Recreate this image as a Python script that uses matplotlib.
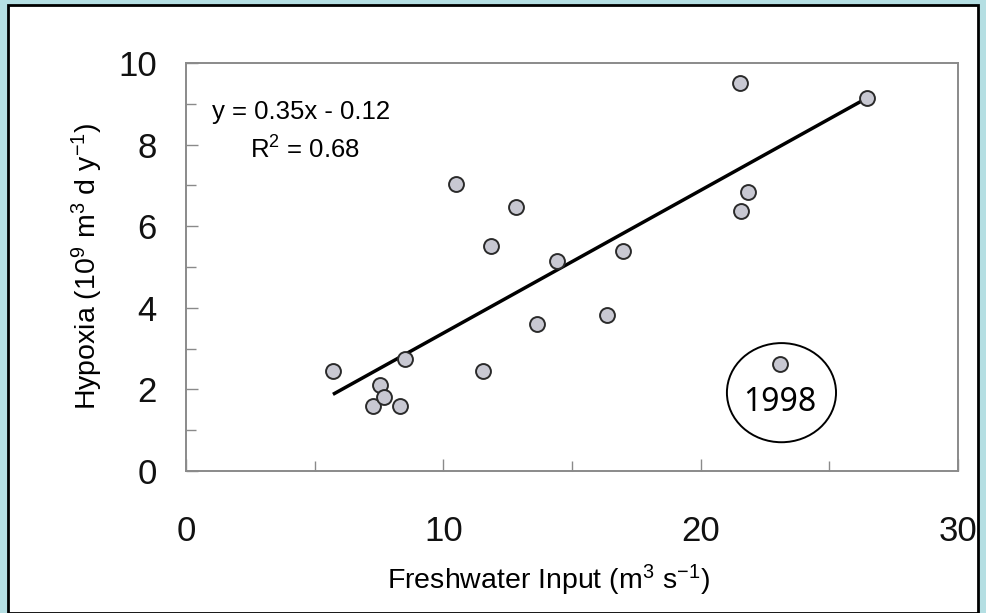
import matplotlib
matplotlib.use("Agg")
import matplotlib.pyplot as plt
from matplotlib.patches import Rectangle, Ellipse
from matplotlib.ticker import MultipleLocator
import numpy as np

# freshwater input (m3 s-1) and hypoxia (10^9 m3 d y-1)
freshwater = [5.71, 7.27, 7.54, 7.70, 8.32, 8.51, 10.49, 11.54, 11.85, 12.83,
              13.64, 14.42, 16.36, 16.98, 21.53, 21.57, 21.84, 23.09, 26.47]
hypoxia = [2.45, 1.59, 2.11, 1.81, 1.59, 2.75, 7.03, 2.45, 5.51, 6.47,
           3.60, 5.15, 3.82, 5.39, 9.51, 6.37, 6.84, 2.62, 9.14]

slope = 0.35
intercept = -0.12
r_squared = 0.68

outlier_year = "1998"
outlier_xy = (23.14, 1.92)

plt.rcParams['font.family'] = ['Liberation Sans', 'DejaVu Sans']
plt.rcParams['mathtext.default'] = 'regular'

W, H = 986, 613
fig = plt.figure(figsize=(W / 100, H / 100), dpi=100)
fig.patch.set_facecolor('#b5dfe3')

# white panel with black border
fig.patches.append(Rectangle((8 / W, 0), (978 - 8) / W, 1 - 5 / H,
                             transform=fig.transFigure, facecolor='white',
                             edgecolor='black', linewidth=2, zorder=-5))

ax = fig.add_axes([186 / W, 1 - 471 / H, (958 - 186) / W, (471 - 63) / H])
ax.set_zorder(2)
ax.set_xlim(0, 30)
ax.set_ylim(0, 10)

for s in ax.spines.values():
    s.set_color('#8a8a8a')
    s.set_linewidth(1.4)

ax.xaxis.set_major_locator(MultipleLocator(10))
ax.xaxis.set_minor_locator(MultipleLocator(5))
ax.yaxis.set_major_locator(MultipleLocator(2))
ax.yaxis.set_minor_locator(MultipleLocator(1))
ax.tick_params(axis='both', which='both', direction='in', colors='#8a8a8a',
               width=1.0, labelcolor='#111111', labelsize=25)
ax.tick_params(axis='both', which='major', length=8.5)
ax.tick_params(axis='both', which='minor', length=7)
ax.tick_params(axis='x', which='major', pad=32)
ax.tick_params(axis='y', which='major', pad=21)

# regression line over the data range
xs = np.array([min(freshwater), max(freshwater)])
ax.plot(xs, slope * xs + intercept, color='black', linewidth=2.5, zorder=2,
        solid_capstyle='butt')

ax.scatter(freshwater, hypoxia, s=115, facecolor='#c8c8d2', edgecolor='#2a2a2a',
           linewidth=1.4, zorder=3)

ax.add_patch(Ellipse(outlier_xy, 4.24, 2.43, facecolor='none', edgecolor='black',
                     linewidth=1.4, zorder=2))
ax.text(outlier_xy[0] - 0.05, 1.69, outlier_year, ha='center', va='center',
        fontsize=23, family='Noto Sans')

ax.text((212 - 186) / 772, (471 - 112) / 408, 'y = 0.35x - 0.12', transform=ax.transAxes,
        ha='left', va='center', fontsize=18.5)
ax.text((250 - 186) / 772, (471 - 150) / 408, 'R$^{2}$ = %.2f' % r_squared,
        transform=ax.transAxes, ha='left', va='center', fontsize=18.5)

fig.text(548 / W, 1 - 580 / H, 'Freshwater Input (m$^{3}$ s$^{-1}$)', ha='center',
         va='center', fontsize=20.5)
fig.text(87 / W, 1 - 266 / H, 'Hypoxia (10$^{9}$ m$^{3}$ d y$^{-1}$)', ha='center',
         va='center', rotation=90, fontsize=20.5)

fig.savefig('out.png', dpi=100, facecolor=fig.get_facecolor())
